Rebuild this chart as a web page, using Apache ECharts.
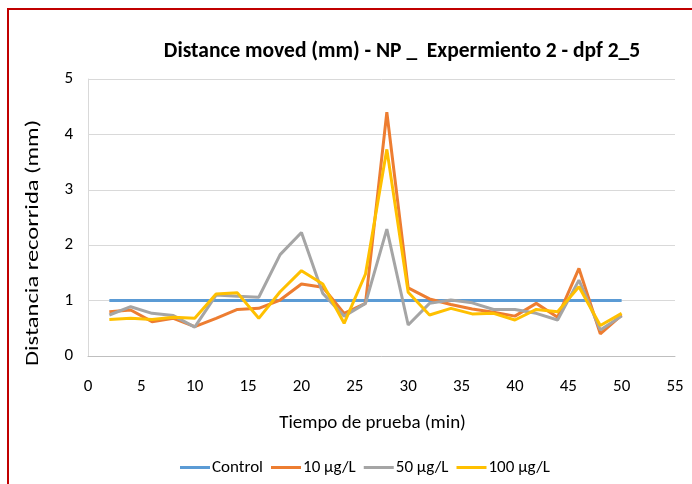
<!DOCTYPE html>
<html>
<head>
<meta charset="utf-8">
<script src="https://cdn.jsdelivr.net/npm/echarts@6/dist/echarts.min.js"></script>
<style>
  html, body { margin: 0; padding: 0; background: #fff; }
  #chart { width: 692px; height: 484px; }
</style>
</head>
<body>
<div id="chart"></div>
<script>
// Test time in minutes (sampled every 2 min)
const minutes = [2, 4, 6, 8, 10, 12, 14, 16, 18, 20, 22, 24, 26, 28, 30, 32, 34, 36, 38, 40, 42, 44, 46, 48, 50];

// Distance moved (mm) for each treatment group
const control = [1, 1, 1, 1, 1, 1, 1, 1, 1, 1, 1, 1, 1, 1, 1, 1, 1, 1, 1, 1, 1, 1, 1, 1, 1];
const dose10  = [0.80, 0.83, 0.62, 0.68, 0.53, 0.68, 0.84, 0.86, 1.01, 1.30, 1.24, 0.77, 0.95, 4.40, 1.23, 1.03, 0.93, 0.85, 0.79, 0.72, 0.95, 0.70, 1.58, 0.40, 0.74];
const dose50  = [0.74, 0.89, 0.77, 0.73, 0.52, 1.10, 1.08, 1.06, 1.83, 2.23, 1.13, 0.72, 0.95, 2.29, 0.56, 0.95, 1.01, 0.96, 0.84, 0.84, 0.77, 0.65, 1.37, 0.47, 0.72];
const dose100 = [0.66, 0.68, 0.66, 0.70, 0.68, 1.12, 1.14, 0.68, 1.16, 1.54, 1.30, 0.59, 1.48, 3.73, 1.15, 0.74, 0.86, 0.76, 0.77, 0.65, 0.84, 0.80, 1.25, 0.55, 0.77];

const seriesNames = ['Control', '10 μg/L', '50 μg/L', '100 μg/L'];
const seriesColors = ['#5B9BD5', '#ED7D31', '#A5A5A5', '#FFC000'];
const seriesData = [control, dose10, dose50, dose100];

const FONT = 'Carlito, Calibri, "Open Sans", sans-serif';

const chart = echarts.init(document.getElementById('chart'), null, { renderer: 'canvas' });

chart.setOption({
  animation: false,
  backgroundColor: '#ffffff',
  title: {
    text: 'Distance moved (mm) - NP _  Expermiento 2 - dpf 2_5',
    left: 397,
    textAlign: 'center',
    top: 36,
    textStyle: { fontFamily: FONT, fontSize: 21.5, fontWeight: 'bold', color: '#000' }
  },
  legend: {
    bottom: 3,
    left: 175,
    itemWidth: 30,
    itemHeight: 3,
    itemGap: 8,
    icon: 'rect',
    textStyle: { fontFamily: FONT, fontSize: 17, color: '#000', padding: [0, 0, 0, -3] },
    data: seriesNames
  },
  grid: { left: 88, right: 17, top: 79, bottom: 128, containLabel: false },
  xAxis: {
    type: 'value',
    min: 0,
    max: 55,
    interval: 5,
    name: 'Tiempo de prueba (min)',
    nameLocation: 'middle',
    nameGap: 58,
    nameTextStyle: { fontFamily: FONT, fontSize: 19, color: '#000', padding: [0, 18, 0, 0] },
    axisLine: { show: true, lineStyle: { color: '#BFBFBF', width: 1 } },
    axisTick: { show: false },
    splitLine: { show: false },
    axisLabel: { fontFamily: FONT, fontSize: 17, color: '#000', margin: 22 }
  },
  yAxis: {
    type: 'value',
    min: 0,
    max: 5,
    interval: 1,
    axisLine: { show: true, lineStyle: { color: '#D9D9D9', width: 1 } },
    axisTick: { show: false },
    splitLine: { show: true, lineStyle: { color: '#D9D9D9', width: 1 } },
    axisLabel: { fontFamily: FONT, fontSize: 17, color: '#000', margin: 15 }
  },
  graphic: [
    {
      type: 'rect',
      shape: { x: 8, y: 9, width: 720, height: 520 },
      style: { fill: 'none', stroke: '#C00000', lineWidth: 2 },
      silent: true
    },
    {
      type: 'text',
      x: 33,
      y: 243,
      rotation: Math.PI / 2,
      scaleX: 1.29,
      style: {
        text: 'Distancia recorrida (mm)',
        font: '19px ' + FONT,
        fill: '#000',
        align: 'center',
        verticalAlign: 'middle'
      }
    }
  ],
  series: seriesData.map((vals, i) => ({
    name: seriesNames[i],
    type: 'line',
    data: minutes.map((m, k) => [m, vals[k]]),
    symbol: 'none',
    lineStyle: { width: 3, color: seriesColors[i] },
    itemStyle: { color: seriesColors[i] },
    z: 2 + i
  }))
});
</script>
</body>
</html>
